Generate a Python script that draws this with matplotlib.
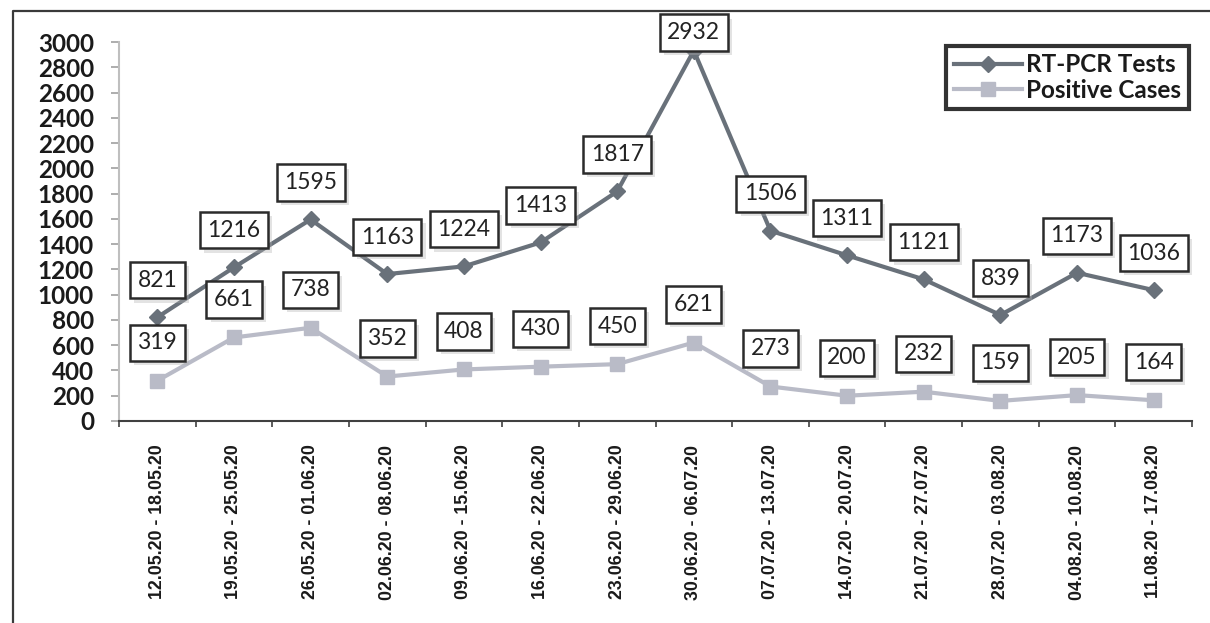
import numpy as np
import matplotlib
matplotlib.use('Agg')
import matplotlib.pyplot as plt
import matplotlib.patheffects as pe
from matplotlib.lines import Line2D

weeks = ['12.05.20 - 18.05.20', '19.05.20 - 25.05.20', '26.05.20 - 01.06.20',
         '02.06.20 - 08.06.20', '09.06.20 - 15.06.20', '16.06.20 - 22.06.20',
         '23.06.20 - 29.06.20', '30.06.20 - 06.07.20', '07.07.20 - 13.07.20',
         '14.07.20 - 20.07.20', '21.07.20 - 27.07.20', '28.07.20 - 03.08.20',
         '04.08.20 - 10.08.20', '11.08.20 - 17.08.20']
tests = [821, 1216, 1595, 1163, 1224, 1413, 1817, 2932, 1506, 1311, 1121, 839, 1173, 1036]
positives = [319, 661, 738, 352, 408, 430, 450, 621, 273, 200, 232, 159, 205, 164]

W, H, DPI = 1210, 623, 100
fig = plt.figure(figsize=(W / DPI, H / DPI), dpi=DPI)
ax = fig.add_axes([119 / W, 1 - 421 / H, (1192 - 119) / W, (421 - 42) / H])

x = np.arange(len(weeks))
c_tests = '#69717a'
c_pos = '#b9bbc7'

ax.plot(x, tests, color=c_tests, lw=3, marker='D', ms=8.5, label='RT-PCR Tests',
        clip_on=False, zorder=3)
ax.plot(x, positives, color=c_pos, lw=3, marker='s', ms=10, label='Positive Cases',
        clip_on=False, zorder=3)

ax.set_ylim(0, 3000)
ax.set_xlim(-0.5, len(weeks) - 0.5)
ax.set_yticks(np.arange(0, 3001, 200))
ax.set_yticklabels([str(v) for v in range(0, 3001, 200)],
                   fontfamily='Lato', fontweight='bold', fontsize=17.5, color='#1a1a1a')
ax.tick_params(axis='y', length=6, width=1.2, color='#a0a0a0', pad=12)

ax.set_xticks(np.arange(-0.5, len(weeks)), minor=False)
ax.set_xticklabels([])
ax.set_xticks(x, minor=True)
ax.set_xticklabels(weeks, minor=True, rotation=90, fontfamily='Liberation Sans',
                   fontweight='bold', fontsize=12.8, color='#1a1a1a')
ax.tick_params(axis='x', which='major', length=4, width=1.2, color='#404040', direction='out')
ax.tick_params(axis='x', which='minor', length=0, pad=17)

for s in ['top', 'right']:
    ax.spines[s].set_visible(False)
ax.spines['left'].set_color('#bfbfbf')
ax.spines['left'].set_linewidth(1.5)
ax.spines['bottom'].set_color('#404040')
ax.spines['bottom'].set_linewidth(1.5)

# outer chart frame (only top and left visible in the crop)
fig.add_artist(Line2D([13 / W, 13 / W, 1.0], [0, 1 - 11 / H, 1 - 11 / H],
                      transform=fig.transFigure, color='#3a3a3a', lw=1.6))

shadow = [pe.withSimplePatchShadow(offset=(3, -3), shadow_rgbFace='#b0b0b0', alpha=0.35)]
top_px = 11 + 21.5


def label(vals, gap):
    for xi, v in zip(x, vals):
        py = H - ax.transData.transform((xi, v))[1]
        dy = min(gap, py - top_px)
        t = ax.annotate(str(v), (xi, v), xytext=(0, dy * 72 / DPI), textcoords='offset points',
                        ha='center', va='center', fontfamily='Lato', fontsize=16.5,
                        color='#222222', zorder=5, annotation_clip=False,
                        bbox=dict(boxstyle='square,pad=0.33', fc='white', ec='#2b2b2b', lw=1.8))
        t.get_bbox_patch().set_path_effects(shadow)


label(tests, 37)
label(positives, 38)

leg = ax.legend(loc='upper right', bbox_to_anchor=(0.997, 0.99), frameon=True, fancybox=False,
                prop={'family': 'Lato', 'weight': 'bold', 'size': 17.5}, handlelength=2.8,
                borderpad=0.3, labelspacing=0.1, handletextpad=0.2, borderaxespad=0)
leg.get_frame().set_edgecolor('black')
leg.get_frame().set_linewidth(3)
for t in leg.get_texts():
    t.set_color('#1a1a1a')

fig.savefig('out.png', dpi=DPI)
